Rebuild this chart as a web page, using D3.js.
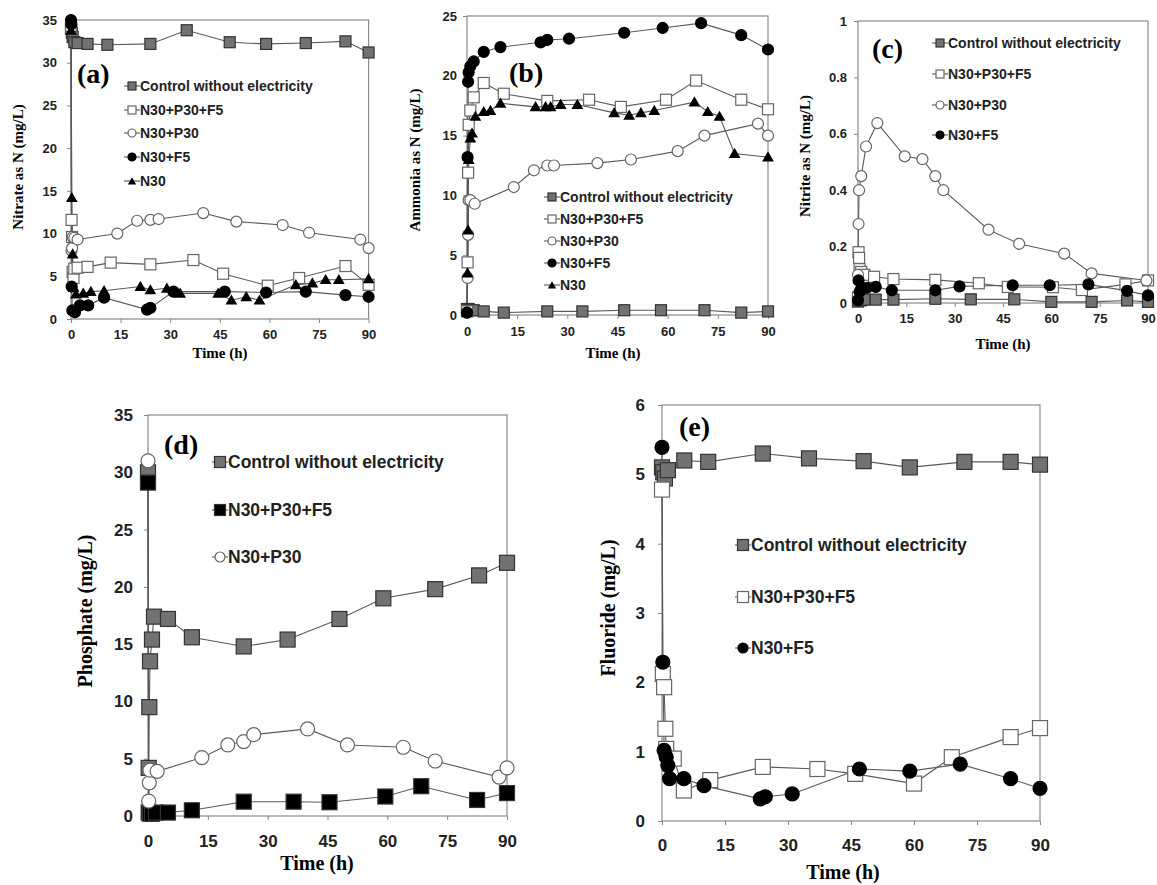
<!DOCTYPE html>
<html>
<head>
<meta charset="utf-8">
<script src="https://cdn.jsdelivr.net/npm/d3@7"></script>
<style>
  body { margin: 0; background: #fff; }
  svg { display: block; }
  .tick text { font-family: "Liberation Sans", Arial, sans-serif; font-weight: bold; fill: #222; }
  .tick line { stroke: #888; }
</style>
</head>
<body>
<script>
//Step 1. size of the whole figure
var w = 1157;
var h = 885;

//Step 2. data, [time (h), value (mg/L)]
var xTicks = [0, 15, 30, 45, 60, 75, 90];
var seriesNames = ["Control without electricity", "N30+P30+F5", "N30+P30", "N30+F5", "N30"];

// (a) nitrate
var nitrateControl = [[0,34],[0.25,33.5],[0.5,33],[1,32.4],[2,32.3],[5,32.2],[11,32.1],[24,32.2],[35,33.8],[48,32.4],[59,32.2],[71,32.3],[83,32.5],[90,31.2]];
var nitrateNPF = [[0,34],[0.17,11.6],[0.33,9.6],[0.5,5.5],[0.75,4.8],[1,5.9],[2,6.0],[5,6.1],[12,6.6],[24,6.4],[37,6.9],[46,5.3],[59.5,3.9],[69,4.8],[83,6.2],[90,4.0]];
var nitrateNP = [[0,34],[0.17,8.0],[0.33,8.3],[0.5,9.6],[1,9.5],[2,9.3],[14,10.0],[20,11.5],[24,11.6],[26.5,11.7],[40,12.4],[50,11.4],[64,11.0],[72,10.1],[87.5,9.3],[90,8.3]];
var nitrateNF = [[0,35],[0.1,34.5],[0.2,3.8],[0.4,1.0],[1.2,0.8],[2.7,1.6],[5.2,1.6],[10,2.5],[23,1.1],[24,1.3],[31,3.2],[46.5,3.2],[59,3.1],[71,3.2],[83,2.8],[90,2.6]];
var nitrateN = [[0,33.8],[0.25,14.2],[0.5,7.6],[0.8,3.7],[1.5,2.9],[3.7,3.0],[6,3.2],[10,3.3],[21,3.8],[24,3.4],[29,3.6],[31.5,3.2],[33,3.0],[44.5,3.0],[48.5,2.2],[53,2.6],[57,2.2],[68,4.0],[73,4.2],[77,4.6],[81,4.6],[90,4.7]];

// (b) ammonia
var ammoniaControl = [[0,0.5],[0.5,0.5],[1,0.4],[2,0.4],[5,0.3],[11,0.2],[24,0.3],[34.5,0.3],[47,0.4],[58,0.4],[71,0.4],[82,0.2],[90,0.3]];
var ammoniaNPF = [[0,0.3],[0.17,4.4],[0.33,11.9],[0.5,15.9],[1,17.1],[2,18.2],[5,19.4],[11,18.5],[24,17.9],[36.5,18.0],[46,17.4],[59.5,18.0],[68.5,19.6],[82,18.0],[90,17.2]];
var ammoniaNP = [[0,0.2],[0.17,3.1],[0.33,6.7],[0.5,9.6],[1,9.6],[2.3,9.3],[14,10.7],[20,12.1],[24,12.5],[26,12.5],[39,12.7],[49,13.0],[63,13.7],[71,15.0],[87,16.0],[90,15.0]];
var ammoniaNF = [[0,0.2],[0.17,13.2],[0.33,19.5],[0.5,20.3],[1,20.8],[2,21.2],[5,22.0],[10,22.4],[22,22.8],[24,23.0],[30.5,23.1],[47,23.6],[58.5,24.0],[70,24.4],[82,23.4],[90,22.2]];
var ammoniaN = [[0,0.2],[0.17,3.5],[0.33,7.1],[0.5,13.0],[1,14.8],[1.5,15.2],[2.5,16.6],[5,17.0],[7,17.1],[10,17.7],[20.5,17.4],[23.5,17.4],[25,17.4],[28,17.6],[33,17.6],[44,16.9],[48.5,16.7],[52,16.9],[56,17.1],[68,17.8],[72,17.0],[75.5,16.6],[80,13.5],[90,13.2]];

// (c) nitrite
var nitriteControl = [[0,0.005],[0.5,0.01],[1,0.01],[2,0.012],[5.5,0.012],[11,0.012],[24,0.015],[35,0.013],[48.5,0.013],[60,0.004],[72.5,0.004],[83.5,0.009],[90,0.004]];
var nitriteNPF = [[0,0.02],[0.17,0.18],[0.33,0.16],[0.5,0.12],[1,0.11],[2,0.1],[5,0.093],[11,0.085],[24,0.082],[37.5,0.07],[46.5,0.057],[60.5,0.056],[69.5,0.046],[83,0.066],[90,0.08]];
var nitriteNP = [[0,0.1],[0.17,0.28],[0.33,0.40],[1,0.45],[2.5,0.555],[6,0.638],[14.5,0.52],[20,0.51],[24,0.45],[26.5,0.40],[40.5,0.26],[50,0.21],[64,0.175],[72.5,0.105],[89.5,0.08]];
var nitriteNF = [[0,0.01],[0.17,0.08],[0.5,0.04],[1,0.05],[2.8,0.054],[5.5,0.057],[10.5,0.045],[24,0.045],[31.5,0.059],[48,0.063],[59.5,0.063],[71.5,0.066],[83.5,0.043],[90,0.027]];

// (d) phosphate
var phosphateControl = [[0,30],[0.17,4.2],[0.33,9.5],[0.5,13.5],[1,15.4],[1.5,17.4],[5,17.2],[11,15.6],[24,14.8],[35,15.4],[48,17.2],[59,19.0],[72,19.8],[83,21.0],[90,22.1]];
var phosphateNPF = [[0,29.1],[0.17,0.3],[0.5,0.2],[1,0.2],[2,0.3],[5,0.3],[11,0.5],[24,1.25],[36.5,1.25],[45.5,1.2],[59.5,1.7],[68.5,2.6],[82.5,1.4],[90,2.0]];
var phosphateNP = [[0,31.0],[0.17,1.3],[0.33,2.9],[0.5,4.0],[2.3,3.9],[13.5,5.1],[20,6.2],[24,6.5],[26.5,7.1],[40,7.6],[50,6.2],[64,6.0],[72,4.8],[88,3.4],[90,4.2]];

// (e) fluoride
var fluorideControl = [[0,5.1],[0.3,5.03],[0.7,4.94],[1.4,5.06],[5.3,5.2],[11,5.18],[24,5.3],[35,5.23],[48,5.19],[59,5.1],[72,5.18],[83,5.18],[90,5.14]];
var fluorideNPF = [[0,4.78],[0.2,2.12],[0.5,1.93],[0.8,1.33],[1,1.04],[2.8,0.9],[5.2,0.44],[11.5,0.59],[24,0.78],[37,0.75],[46,0.68],[60,0.54],[69,0.92],[83,1.21],[90,1.34]];
var fluorideNF = [[0,5.39],[0.2,2.29],[0.5,1.02],[1,0.92],[1.4,0.8],[1.8,0.61],[5.2,0.61],[10,0.51],[23.4,0.32],[24.6,0.35],[31,0.39],[47,0.75],[59,0.72],[71,0.82],[83,0.61],[90,0.47]];

//Step 3. panel layout (pixel positions and sizes, not data)
var small = { tick: 13, legend: 14, title: 15, sq: 11, r: 5.5, tri: 60, lsq: 8, lr: 4, ltri: 30 };
var big = { tick: 17, legend: 17.5, title: 20, sq: 15, r: 7, tri: 80, lsq: 11, lr: 5, ltri: 45 };

var panels = [
  { label: "(a)", labelX: 77, labelY: 83, xr: [71, 368.6], yr: [319, 20], ymax: 35, yticks: d3.range(0, 36, 5),
    ytitle: "Nitrate as N (mg/L)", ytx: 18, yty: 167, xtx: 220, xty: 358, ypad: 10, xpad: 7, s: small,
    legend: { x: 132, ys: [86, 110, 133, 157, 181] },
    series: [
      { data: nitrateControl, mark: "sqGrey", name: seriesNames[0] },
      { data: nitrateNPF, mark: "sqOpen", name: seriesNames[1] },
      { data: nitrateNP, mark: "circOpen", name: seriesNames[2] },
      { data: nitrateNF, mark: "circBlack", name: seriesNames[3] },
      { data: nitrateN, mark: "tri", name: seriesNames[4] }
    ] },
  { label: "(b)", labelX: 509, labelY: 82, xr: [467, 768], yr: [315, 16], ymax: 25, yticks: d3.range(0, 26, 5),
    ytitle: "Ammonia as N (mg/L)", ytx: 415, yty: 160, xtx: 613, xty: 358, ypad: 6, xpad: 8, s: small,
    legend: { x: 552, ys: [197, 219, 241, 263, 285] },
    series: [
      { data: ammoniaControl, mark: "sqGrey", name: seriesNames[0] },
      { data: ammoniaNPF, mark: "sqOpen", name: seriesNames[1] },
      { data: ammoniaNP, mark: "circOpen", name: seriesNames[2] },
      { data: ammoniaNF, mark: "circBlack", name: seriesNames[3] },
      { data: ammoniaN, mark: "tri", name: seriesNames[4] }
    ] },
  { label: "(c)", labelX: 872, labelY: 58, xr: [858, 1148], yr: [303, 21], ymax: 1, yticks: [0, 0.2, 0.4, 0.6, 0.8, 1],
    ytitle: "Nitrite as N (mg/L)", ytx: 805, yty: 156, xtx: 1003, xty: 349, ypad: 7, xpad: 7, s: small,
    legend: { x: 940, ys: [43, 74, 105, 135] },
    series: [
      { data: nitriteControl, mark: "sqGrey", name: seriesNames[0] },
      { data: nitriteNPF, mark: "sqOpen", name: seriesNames[1] },
      { data: nitriteNP, mark: "circOpen", name: seriesNames[2] },
      { data: nitriteNF, mark: "circBlack", name: seriesNames[3] }
    ] },
  { label: "(d)", labelX: 164, labelY: 454, xr: [148, 507], yr: [816, 415], ymax: 35, yticks: d3.range(0, 36, 5),
    ytitle: "Phosphate (mg/L)", ytx: 85, yty: 611, xtx: 317, xty: 870, ypad: 11, xpad: 15, s: big,
    legend: { x: 220, ys: [462, 510, 557] },
    series: [
      { data: phosphateControl, mark: "sqGrey", name: seriesNames[0] },
      { data: phosphateNPF, mark: "sqBlack", name: seriesNames[1] },
      { data: phosphateNP, mark: "circOpen", name: seriesNames[2] }
    ] },
  { label: "(e)", labelX: 679, labelY: 436, xr: [662, 1040], yr: [821, 405], ymax: 6, yticks: d3.range(0, 7, 1),
    ytitle: "Fluoride (mg/L)", ytx: 608, yty: 608, xtx: 843, xty: 879, ypad: 13, xpad: 14, s: big,
    legend: { x: 743, ys: [545, 597, 648] },
    series: [
      { data: fluorideControl, mark: "sqGrey", name: seriesNames[0] },
      { data: fluorideNPF, mark: "sqOpen", name: seriesNames[1] },
      { data: fluorideNF, mark: "circBlack", name: seriesNames[3] }
    ] }
];

//Step 4. create svg element
var svg = d3.select("body")
  .append("svg")
  .attr("width", w)
  .attr("height", h);

// draws one marker of a given type into g
function drawMarker(g, type, x, y, sq, r, tri) {
  if (type.indexOf("sq") === 0) {
    g.append("rect")
      .attr("x", x - sq / 2)
      .attr("y", y - sq / 2)
      .attr("width", sq)
      .attr("height", sq)
      .attr("fill", type === "sqGrey" ? "#727272" : (type === "sqBlack" ? "#000" : "#fff"))
      .attr("stroke", type === "sqOpen" ? "#666" : "#333")
      .attr("stroke-width", 1.2);
  } else if (type.indexOf("circ") === 0) {
    g.append("circle")
      .attr("cx", x)
      .attr("cy", y)
      .attr("r", r)
      .attr("fill", type === "circBlack" ? "#000" : "#fff")
      .attr("stroke", type === "circBlack" ? "#000" : "#666")
      .attr("stroke-width", 1.2);
  } else {
    g.append("path")
      .attr("d", d3.symbol().type(d3.symbolTriangle).size(tri)())
      .attr("transform", "translate(" + x + "," + (y + 1) + ")")
      .attr("fill", "#000");
  }
}

//Step 5. draw every panel
panels.forEach(function(p) {
  var xScale = d3.scaleLinear().domain([0, 90]).range(p.xr);
  var yScale = d3.scaleLinear().domain([0, p.ymax]).range(p.yr);
  var g = svg.append("g");

  // plot frame
  g.append("rect")
    .attr("x", p.xr[0])
    .attr("y", p.yr[1])
    .attr("width", p.xr[1] - p.xr[0])
    .attr("height", p.yr[0] - p.yr[1])
    .attr("fill", "none")
    .attr("stroke", "#8a8a8a")
    .attr("stroke-width", 1.2);

  var xAxis = d3.axisBottom(xScale).tickValues(xTicks).tickSize(4).tickPadding(p.xpad).tickFormat(d3.format("d"));
  var yAxis = d3.axisLeft(yScale).tickValues(p.yticks).tickSize(4).tickPadding(p.ypad)
    .tickFormat(function(d) { return p.ymax === 1 ? d3.format("~g")(d) : d; });

  g.append("g")
    .attr("class", "x axis")
    .attr("transform", "translate(0," + p.yr[0] + ")")
    .call(xAxis)
    .call(function(a) { a.select(".domain").remove(); })
    .selectAll("text").style("font-size", p.s.tick + "px");

  g.append("g")
    .attr("class", "y axis")
    .attr("transform", "translate(" + p.xr[0] + ",0)")
    .call(yAxis)
    .call(function(a) { a.select(".domain").remove(); })
    .selectAll("text").style("font-size", p.s.tick + "px");

  // axis titles
  g.append("text")
    .attr("transform", "translate(" + p.ytx + "," + p.yty + ") rotate(-90)")
    .attr("text-anchor", "middle")
    .attr("dy", "0.35em")
    .style("font-family", "'Liberation Serif', 'Times New Roman', serif")
    .style("font-weight", "bold")
    .style("font-size", p.s.title + "px")
    .text(p.ytitle);

  g.append("text")
    .attr("x", p.xtx)
    .attr("y", p.xty)
    .attr("text-anchor", "middle")
    .style("font-family", "'Liberation Serif', 'Times New Roman', serif")
    .style("font-weight", "bold")
    .style("font-size", p.s.title + "px")
    .text("Time (h)");

  // panel letter
  g.append("text")
    .attr("x", p.labelX)
    .attr("y", p.labelY)
    .style("font-family", "'Liberation Serif', 'Times New Roman', serif")
    .style("font-weight", "bold")
    .style("font-size", "28px")
    .text(p.label);

  var line = d3.line()
    .x(function(d) { return xScale(d[0]); })
    .y(function(d) { return yScale(d[1]); });

  // lines first, markers on top
  p.series.forEach(function(s) {
    g.append("path")
      .datum(s.data)
      .attr("d", line)
      .attr("fill", "none")
      .attr("stroke", "#5a5a5a")
      .attr("stroke-width", 1.1);
  });

  p.series.forEach(function(s) {
    var mg = g.append("g");
    s.data.forEach(function(d) {
      drawMarker(mg, s.mark, xScale(d[0]), yScale(d[1]), p.s.sq, p.s.r, p.s.tri);
    });
  });

  // legend
  p.series.forEach(function(s, i) {
    var ly = p.legend.ys[i];
    var lx = p.legend.x;
    g.append("line")
      .attr("x1", lx - 8).attr("x2", lx + 8)
      .attr("y1", ly).attr("y2", ly)
      .attr("stroke", "#5a5a5a")
      .attr("stroke-width", 1.1);
    drawMarker(g, s.mark, lx, ly, p.s.lsq, p.s.lr, p.s.ltri);
    g.append("text")
      .attr("x", lx + 8)
      .attr("y", ly)
      .attr("dy", "0.36em")
      .style("font-family", "'Liberation Sans', Arial, sans-serif")
      .style("font-weight", "bold")
      .style("font-size", p.s.legend + "px")
      .style("fill", "#222")
      .text(s.name);
  });
});
</script>
</body>
</html>
